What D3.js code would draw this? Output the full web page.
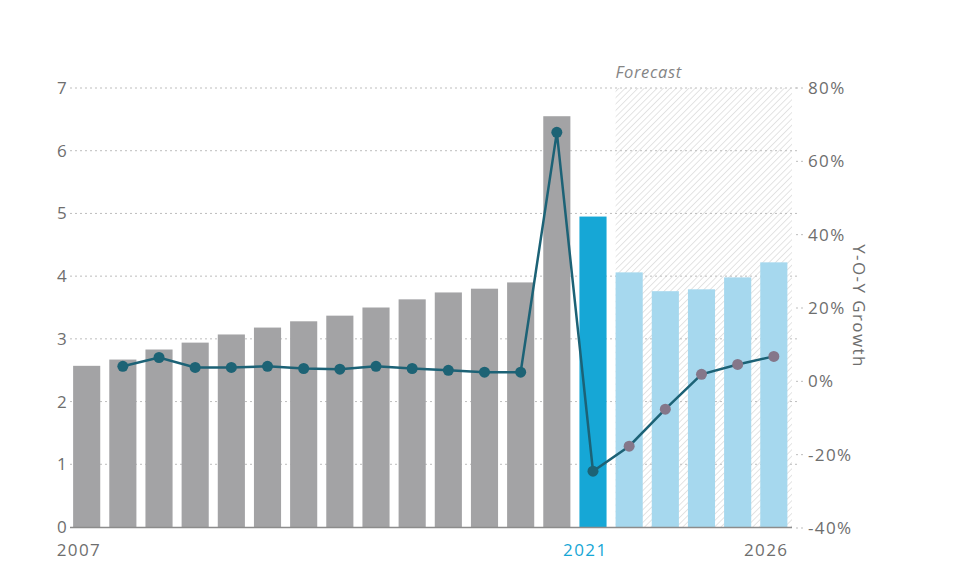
<!DOCTYPE html>
<html><head><meta charset="utf-8">
<script src="https://cdn.jsdelivr.net/npm/d3@7"></script>
<style>body{margin:0;background:#fff;} text{font-family:"Open Sans","Noto Sans",sans-serif;letter-spacing:1.4px;}</style>
</head><body>
<svg id="c" width="955" height="562"></svg>
<script>
const years = [2007,2008,2009,2010,2011,2012,2013,2014,2015,2016,2017,2018,2019,2020,2021,2022,2023,2024,2025,2026];
const values = [2.57,2.67,2.83,2.94,3.07,3.18,3.28,3.37,3.50,3.63,3.74,3.80,3.90,6.55,4.95,4.06,3.76,3.79,3.98,4.22];
const growth = [null,4.1,6.5,3.8,3.8,4.1,3.5,3.3,4.1,3.5,3.0,2.5,2.5,67.9,-24.5,-17.7,-7.6,1.9,4.6,6.8];
const leftTicks = [0,1,2,3,4,5,6,7];
const rightTicks = [-40,-20,0,20,40,60,80];
const xLabels = [2007,2021,2026];
const currentYear = 2021;
const forecastStart = 2022;

const svg = d3.select("#c");
const x = d3.scaleBand().domain(years).range([69.5,791]).paddingInner(0.25).paddingOuter(0.1);
const yL = d3.scaleLinear().domain([0,7]).range([527,88]);
const yR = d3.scaleLinear().domain([-40,80]).range([528,88]);

// hatch pattern
const defs = svg.append("defs");
const pat = defs.append("pattern").attr("id","hatch").attr("patternUnits","userSpaceOnUse")
  .attr("width",4.5).attr("height",4.5).attr("patternTransform","rotate(45)");
pat.append("rect").attr("width",4.5).attr("height",4.5).attr("fill","#fff");
pat.append("line").attr("x1",0).attr("y1",0).attr("x2",0).attr("y2",4.5).attr("stroke","#d9d9d9").attr("stroke-width",1.4);

const fx0 = x(forecastStart);
svg.append("rect").attr("x",fx0).attr("y",yL(7)).attr("width",792-fx0).attr("height",yR(-40)-yL(7)).attr("fill","url(#hatch)");
svg.append("text").attr("x",fx0).attr("y",78).attr("font-size",16.5).attr("font-style","italic").attr("fill","#858585").style("letter-spacing","0.6px").text("Forecast");

// gridlines
const grid = svg.append("g");
leftTicks.filter(d=>d>0).forEach(t=>{
  grid.append("line").attr("x1",70).attr("x2",800).attr("y1",yL(t)).attr("y2",yL(t))
    .attr("stroke","#bdbdbd").attr("stroke-dasharray","2,3").attr("stroke-width",1);
});
rightTicks.forEach(t=>{
  grid.append("line").attr("x1",796).attr("x2",806).attr("y1",yR(t)).attr("y2",yR(t))
    .attr("stroke","#bdbdbd").attr("stroke-dasharray","2,3");
});

// bars
svg.append("g").selectAll("rect").data(years).join("rect")
  .attr("x",d=>x(d)).attr("width",x.bandwidth())
  .attr("y",(d,i)=>yL(values[i])).attr("height",(d,i)=>yL(0)-yL(values[i]))
  .attr("fill",d=> d===currentYear ? "#16a7d6" : (d>=forecastStart ? "#a6d8ee" : "#a3a3a5"));

// baseline
svg.append("line").attr("x1",70).attr("x2",792).attr("y1",527.5).attr("y2",527.5).attr("stroke","#8c8c8c").attr("stroke-width",1.5);

// line
const pts = years.map((d,i)=>({year:d,g:growth[i]})).filter(p=>p.g!==null);
const line = d3.line().x(p=>x(p.year)+x.bandwidth()/2).y(p=>yR(p.g));
svg.append("path").datum(pts).attr("d",line).attr("fill","none").attr("stroke","#1c6276").attr("stroke-width",2.5);
svg.append("g").selectAll("circle").data(pts).join("circle")
  .attr("cx",p=>x(p.year)+x.bandwidth()/2).attr("cy",p=>yR(p.g)).attr("r",5.5)
  .attr("fill",p=>p.year>=forecastStart ? "#85778a" : "#1d6375");

// left axis labels
svg.append("g").selectAll("text").data(leftTicks).join("text")
  .attr("x",68).attr("y",d=>yL(d)+6).attr("text-anchor","end").attr("font-size",17).attr("fill","#6e6e6e").text(d=>d);
// right axis labels
svg.append("g").selectAll("text").data(rightTicks).join("text")
  .attr("x",808).attr("y",d=>yR(d)+6).attr("font-size",17).attr("fill","#6e6e6e").text(d=>d+"%");
svg.append("text").attr("transform","translate(853,306) rotate(90)").attr("text-anchor","middle")
  .attr("font-size",17).attr("fill","#6e6e6e").text("Y-O-Y Growth");

// x labels
svg.append("g").selectAll("text").data(xLabels).join("text")
  .attr("x",d=>x(d)+x.bandwidth()+1).attr("y",556).attr("text-anchor","end").attr("font-size",17)
  .attr("fill",d=>d===currentYear ? "#16a7d6" : "#6e6e6e").text(d=>d);
</script>
</body></html>
